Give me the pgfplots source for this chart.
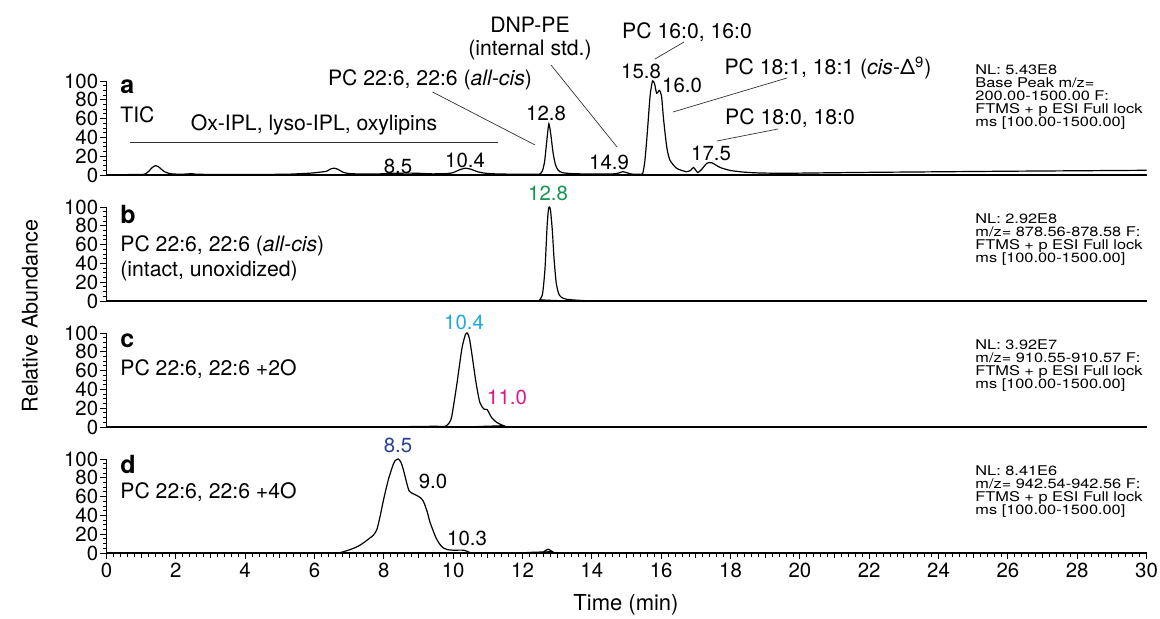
\documentclass[border=0pt]{standalone}
\usepackage{pgfplots}
\pgfplotsset{compat=1.18}
\usepackage{graphicx}
\usepackage{fontspec}
\setmainfont{TeX Gyre Heros}
\definecolor{pkgreen}{RGB}{20,150,80}
\definecolor{pkcyan}{RGB}{30,170,225}
\definecolor{pkmag}{RGB}{228,20,130}
\definecolor{pknavy}{RGB}{40,65,150}
\newcommand{\nltext}[1]{\scalebox{1.22}[1]{\fontsize{6.7}{5.4}\selectfont\begin{tabular}{@{}l@{}}#1\end{tabular}}}
\pgfplotsset{
  chrom/.style={
    scale only axis, width=520pt, height=47pt,
    xmin=0, xmax=30, ymin=0, ymax=100,
    axis x line=bottom, axis y line=left,
    axis line style={-},
    x axis line style={line width=0.9pt},
    y axis line style={line width=0.5pt},
    ytick={0,20,...,100}, minor y tick num=3,
    tick align=outside,
    major tick length=3pt, minor tick length=1.8pt,
    every tick/.style={black, line width=0.4pt},
    tick label style={font=\fontsize{10.2}{11}\selectfont},
    /pgf/number format/assume math mode=true,
    yticklabel style={inner sep=1pt},
    clip=false, anchor=south west,
  },
  trace/.style={black, line width=0.6pt, smooth, tension=0.4, mark=none},
}
\begin{document}
\begin{tikzpicture}
\useasboundingbox (0,0) rectangle (580pt,309.5pt);
% ---------- panel a ----------
\begin{axis}[chrom, at={(53.25pt,222pt)}, xtick=\empty]
\addplot[trace] coordinates {(0,0.3)(0.5,0.4)(1.0,0.5)(1.12,1.2)(1.22,4)(1.32,8)(1.42,10)(1.5,8.8)(1.6,5.5)(1.7,3)(1.85,1.3)(2.1,0.8)(2.3,1)(2.45,1.4)(2.6,0.8)(3,0.6)(3.5,0.5)(4.5,0.6)(5.2,0.8)(5.6,1.4)(5.9,2)(6.16,3)(6.35,4)(6.47,6.5)(6.57,7.2)(6.68,6)(6.82,3)(7.0,1.5)(7.4,1)(7.9,1.2)(8.3,1.8)(8.7,2)(9.0,1.8)(9.4,1.2)(9.8,1.5)(10.0,2.5)(10.18,5.5)(10.35,7.2)(10.52,6)(10.7,3.5)(10.9,2)(11.2,1.2)(11.8,0.8)(12.3,0.8)(12.5,1)(12.58,5)(12.64,15)(12.7,36)(12.76,54.5)(12.82,42)(12.88,24)(12.95,11)(13.03,5)(13.15,2.5)(13.4,1.5)(13.8,1.1)(14.3,1)(14.6,1.1)(14.77,2)(14.89,3.5)(15.02,2.3)(15.15,1)(15.4,0.8)(15.47,2)(15.53,15)(15.6,45)(15.68,84)(15.75,100)(15.81,97)(15.87,87)(15.95,90)(16.01,84)(16.07,59)(16.16,30)(16.25,16)(16.45,7)(16.73,3.5)(16.85,5)(16.93,8)(17.0,5)(17.06,2.5)(17.18,6.5)(17.32,12.5)(17.46,13)(17.7,8)(18.0,4.8)(18.4,3)(18.8,2.2)(19.5,1.8)(20.5,2.2)(22,2.8)(24,3.4)(26,4)(28,4.5)(30,5)};
\end{axis}
% ---------- panel b ----------
\begin{axis}[chrom, at={(53.25pt,159pt)}, xtick=\empty]
\addplot[trace] coordinates {(0,0)(12.4,0)(12.5,1.5)(12.58,8)(12.65,35)(12.71,80)(12.75,98)(12.78,100)(12.81,96)(12.86,75)(12.91,45)(12.97,20)(13.04,8)(13.12,4)(13.25,2)(13.5,1)(13.8,0.4)(14.0,0)(30,0)};
\end{axis}
% ---------- panel c ----------
\begin{axis}[chrom, at={(53.25pt,96pt)}, xtick=\empty]
\addplot[trace] coordinates {(0,0)(8.5,0)(8.85,0.5)(9.2,0.6)(9.5,0.8)(9.76,0.5)(9.88,4)(9.96,11.5)(10.1,44)(10.25,83)(10.35,98)(10.41,100)(10.47,94)(10.53,80)(10.66,47)(10.77,26)(10.89,19)(10.98,18.5)(11.05,14)(11.11,10)(11.25,5)(11.45,1.5)(11.69,0)(30,0)};
\end{axis}
% ---------- panel d ----------
\begin{axis}[chrom, at={(53.25pt,33pt)},
  xtick={0,2,...,30}, minor x tick num=9,
  extra x ticks={1,3,...,29}, extra x tick labels={},
  extra x tick style={major tick length=2.4pt},
  xticklabel style={inner sep=2pt}]
\addplot[trace] coordinates {(0,0)(6.6,0)(6.73,0.3)(7.02,3.5)(7.25,7)(7.41,10.7)(7.6,16)(7.7,19)(7.8,25)(7.89,38.7)(8.0,58)(8.13,78)(8.25,92)(8.32,98)(8.42,100)(8.5,96)(8.56,89)(8.65,76)(8.73,66)(8.85,63)(8.96,61)(9.05,59)(9.14,55)(9.25,44)(9.33,33)(9.45,21)(9.52,15)(9.62,9)(9.71,5.5)(9.85,3.5)(10.0,3)(10.29,3)(10.4,1.8)(10.48,0.5)(10.6,0)(12.5,0)(12.62,1.5)(12.74,4)(12.86,1.5)(13.0,0)(30,0)};
\end{axis}
% ---------- annotations (pixel coordinates) ----------
\begin{scope}[x=0.5pt,y=-0.5pt,yshift=309.5pt]
\tikzset{lbl/.style={font=\fontsize{10.6}{12}\selectfont, inner sep=0pt},
         num/.style={font=\fontsize{10.2}{12}\selectfont, inner sep=0pt},
         pnl/.style={font=\fontsize{12.5}{14}\selectfont\bfseries, inner sep=0pt, anchor=west},
         ann/.style={black!80, line width=0.35pt}}
% axis titles
\node[font=\fontsize{10.8}{12}\selectfont, rotate=90] at (30,316) {Relative Abundance};
\node[font=\fontsize{11}{12}\selectfont] at (626,605) {Time (min)};
% panel a
\node[pnl] at (120,87) {a};
\node[lbl, anchor=west] at (120,115) {TIC};
\node[lbl] at (314,125) {Ox-IPL, lyso-IPL, oxylipins};
\draw[ann] (130,142) -- (497.5,142);
\node[num] at (398,166) {8.5};
\node[num] at (465,160) {10.4};
\node[num] at (546,113) {12.8};
\node[num] at (609,162) {14.9};
\node[num] at (641,71) {15.8};
\node[num] at (682,85) {16.0};
\node[num] at (711,153) {17.5};
\node[lbl] at (430,80) {PC 22:6, 22:6 (\textit{all-cis})};
\draw[ann] (432.5,92) -- (535,145);
\node[lbl] at (530,25) {DNP-PE};
\node[lbl] at (530,50) {(internal std.)};
\draw[ann] (551,65) -- (617,147);
\node[lbl] at (687,32) {PC 16:0, 16:0};
\draw[ann] (655,59) -- (684,42);
\node[lbl] at (828,68) {PC 18:1, 18:1 (\textit{cis}-Δ\textsuperscript{9})};
\draw[ann] (673,112) -- (787,78);
\node[lbl] at (790,118) {PC 18:0, 18:0};
\draw[ann] (717,141) -- (778,129);
\node[anchor=north west, inner sep=0pt] at (975,64) {\nltext{NL: 5.43E8\\Base Peak m/z=\\200.00-1500.00 F:\\FTMS + p ESI Full lock\\ms [100.00-1500.00]}};
% panel b
\node[pnl] at (120,215) {b};
\node[lbl, anchor=west] at (120,246) {PC 22:6, 22:6 (\textit{all-cis})};
\node[lbl, anchor=west] at (120,271) {(intact, unoxidized)};
\node[num, text=pkgreen] at (548,193) {12.8};
\node[anchor=north west, inner sep=0pt] at (975,213) {\nltext{NL: 2.92E8\\m/z= 878.56-878.58 F:\\FTMS + p ESI Full lock\\ms [100.00-1500.00]}};
% panel c
\node[pnl] at (120,341) {c};
\node[lbl, anchor=west] at (120,369) {PC 22:6, 22:6 +2O};
\node[num, text=pkcyan] at (464,322) {10.4};
\node[num, text=pkmag] at (507,397) {11.0};
\node[anchor=north west, inner sep=0pt] at (975,339) {\nltext{NL: 3.92E7\\m/z= 910.55-910.57 F:\\FTMS + p ESI Full lock\\ms [100.00-1500.00]}};
% panel d
\node[pnl] at (120,465) {d};
\node[lbl, anchor=west] at (120,492) {PC 22:6, 22:6 +4O};
\node[num, text=pknavy] at (398,445) {8.5};
\node[num] at (433,481) {9.0};
\node[num] at (467,538) {10.3};
\node[anchor=north west, inner sep=0pt] at (975,465) {\nltext{NL: 8.41E6\\m/z= 942.54-942.56 F:\\FTMS + p ESI Full lock\\ms [100.00-1500.00]}};
\end{scope}
\end{tikzpicture}
\end{document}
